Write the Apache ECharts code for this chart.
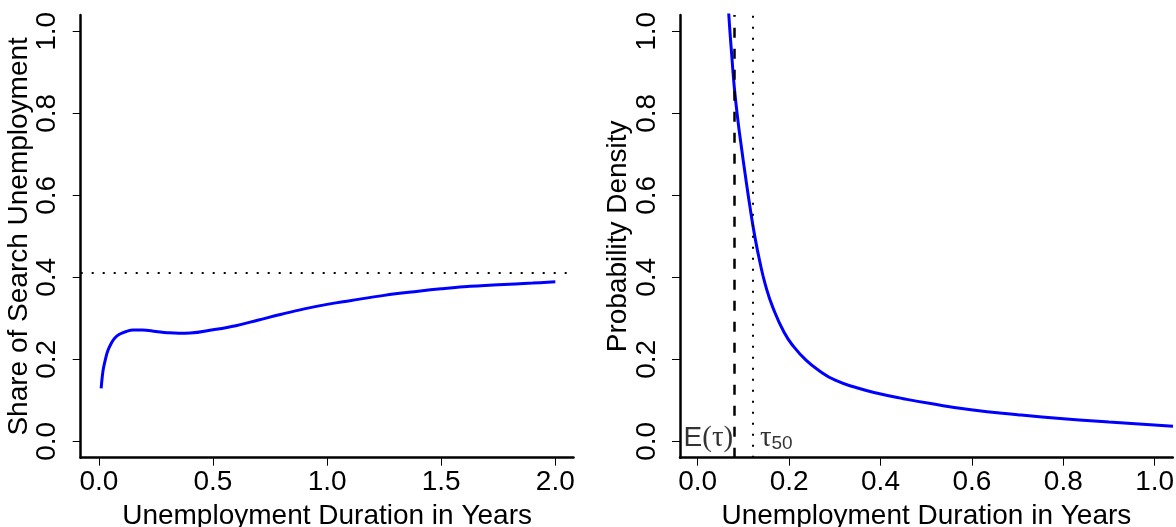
<!DOCTYPE html>
<html>
<head>
<meta charset="utf-8">
<title>Search unemployment and duration density</title>
<script src="https://cdn.jsdelivr.net/npm/echarts@6/dist/echarts.min.js"></script>
<style>
  html, body { margin: 0; padding: 0; background: #fff; }
  #chart { width: 1176px; height: 527px; }
</style>
</head>
<body>
<div id="chart"></div>
<script>
// Share of search unemployment by unemployment duration (years)
const shareDuration = [0.01, 0.015, 0.02, 0.03, 0.04, 0.055, 0.07, 0.09, 0.12, 0.15, 0.19, 0.25, 0.3, 0.35, 0.4, 0.5, 0.6, 0.7, 0.8, 0.9, 1.0, 1.1, 1.25, 1.4, 1.5, 1.6, 1.75, 1.9, 2.0];
const shareValue    = [0.129, 0.158, 0.178, 0.203, 0.222, 0.240, 0.252, 0.261, 0.268, 0.2715, 0.2715, 0.268, 0.265, 0.2635, 0.264, 0.272, 0.282, 0.296, 0.310, 0.323, 0.334, 0.343, 0.356, 0.366, 0.372, 0.377, 0.382, 0.386, 0.389];
const shareLimit = 0.406;

// Probability density of unemployment duration (years)
const densityDuration = [0.05, 0.06, 0.068, 0.075, 0.08, 0.088, 0.096, 0.104, 0.114, 0.1245, 0.136, 0.1486, 0.165, 0.189, 0.21, 0.237, 0.265, 0.301, 0.35, 0.398, 0.45, 0.51, 0.598, 0.7, 0.8, 0.9, 1.04];
const densityValue    = [1.45, 1.20, 1.042, 0.935, 0.865, 0.783, 0.715, 0.651, 0.575, 0.503, 0.438, 0.380, 0.325, 0.266, 0.231, 0.198, 0.173, 0.149, 0.130, 0.116, 0.104, 0.092, 0.077, 0.065, 0.055, 0.047, 0.0367];
const meanDuration = 0.080;    // E(tau)
const medianDuration = 0.123;  // tau_50

// Tick labels
const yTicks = [0, 0.2, 0.4, 0.6, 0.8, 1.0];
const shareXTicks = [0, 0.5, 1.0, 1.5, 2.0];
const densityXTicks = [0, 0.2, 0.4, 0.6, 0.8, 1.0];

const FONT = '"Liberation Sans", Arial, Helvetica, sans-serif';
const SERIF = '"Liberation Serif", "DejaVu Serif", serif';
const BLACK = '#000';
const FS = 28;

function pairs(xs, ys) { return xs.map((x, i) => [x, ys[i]]); }

function xAxisFor(gridIndex, min, max, ticks) {
  return {
    type: 'value', gridIndex, min, max,
    name: 'Unemployment Duration in Years',
    nameLocation: 'middle', nameGap: 45,
    nameTextStyle: { fontSize: FS, color: BLACK, fontFamily: FONT },
    axisLine: { show: true, onZero: false, lineStyle: { color: BLACK, width: 2.5 } },
    axisTick: { show: true, length: 8, lineStyle: { color: BLACK, width: 1 }, customValues: ticks },
    axisLabel: { customValues: ticks, formatter: v => v.toFixed(1), fontSize: FS, color: BLACK, fontFamily: FONT, margin: 11 },
    splitLine: { show: false }
  };
}

function yAxisFor(gridIndex, name) {
  return {
    type: 'value', gridIndex, min: -0.04, max: 1.04,
    name, nameLocation: 'middle', nameGap: 40, nameRotate: 90,
    nameTextStyle: { fontSize: FS, color: BLACK, fontFamily: FONT },
    axisLine: { show: true, onZero: false, lineStyle: { color: BLACK, width: 2.5 } },
    axisTick: { show: true, length: 8, lineStyle: { color: BLACK, width: 1 }, customValues: yTicks },
    axisLabel: { customValues: yTicks, formatter: v => v.toFixed(1), fontSize: FS, color: BLACK, fontFamily: FONT, rotate: 90, margin: 19 },
    splitLine: { show: false }
  };
}

const chart = echarts.init(document.getElementById('chart'), null, { renderer: 'canvas' });

chart.setOption({
  animation: false,
  backgroundColor: '#fff',
  grid: [
    { left: 80.7, top: 15, width: 492.8, height: 442.7, outerBoundsMode: 'none', containLabel: false },
    { left: 680, top: 15, width: 492.8, height: 442.7, outerBoundsMode: 'none', containLabel: false }
  ],
  xAxis: [
    xAxisFor(0, -0.0796, 2.0796, shareXTicks),
    xAxisFor(1, -0.0387, 1.0396, densityXTicks)
  ],
  yAxis: [
    yAxisFor(0, 'Share of Search Unemployment'),
    yAxisFor(1, 'Probability Density')
  ],
  series: [
    {
      type: 'line', xAxisIndex: 0, yAxisIndex: 0,
      data: pairs(shareDuration, shareValue),
      smooth: 0.4, showSymbol: false, clip: true,
      lineStyle: { color: '#0000ff', width: 3 },
      markLine: {
        silent: true, symbol: 'none', label: { show: false },
        lineStyle: { color: BLACK, width: 2, type: [2, 9], cap: 'butt' },
        data: [{ yAxis: shareLimit }]
      }
    },
    {
      type: 'line', xAxisIndex: 1, yAxisIndex: 1,
      data: pairs(densityDuration, densityValue),
      smooth: 0.5, showSymbol: false, clip: true,
      lineStyle: { color: '#0000ff', width: 3 },
      markLine: {
        silent: true, symbol: 'none', label: { show: false },
        data: [
          { xAxis: meanDuration, lineStyle: { color: BLACK, width: 2.5, type: [10, 11], cap: 'butt' } },
          { xAxis: medianDuration, lineStyle: { color: BLACK, width: 2, type: [2, 9], cap: 'butt' } }
        ]
      }
    },
    {
      // labels for the mean and median durations
      type: 'scatter', xAxisIndex: 1, yAxisIndex: 1,
      symbolSize: 0, silent: true,
      data: [
        {
          value: [meanDuration, 0],
          label: {
            show: true, position: 'left', distance: 1, offset: [0, -3],
            formatter: '{e|E}{p|(τ)}',
            rich: {
              e: { fontSize: FS, fontFamily: FONT, color: BLACK },
              p: { fontSize: 29, fontFamily: SERIF, color: BLACK }
            }
          }
        },
        {
          value: [medianDuration, 0],
          label: {
            show: true, position: 'right', distance: 6, offset: [0, -3],
            formatter: '{t|τ}{s|50}',
            rich: {
              t: { fontSize: 29, fontFamily: SERIF, color: BLACK },
              s: { fontSize: 19, fontFamily: FONT, color: BLACK, padding: [10, 0, 0, 0] }
            }
          }
        }
      ]
    }
  ]
});
</script>
</body>
</html>
